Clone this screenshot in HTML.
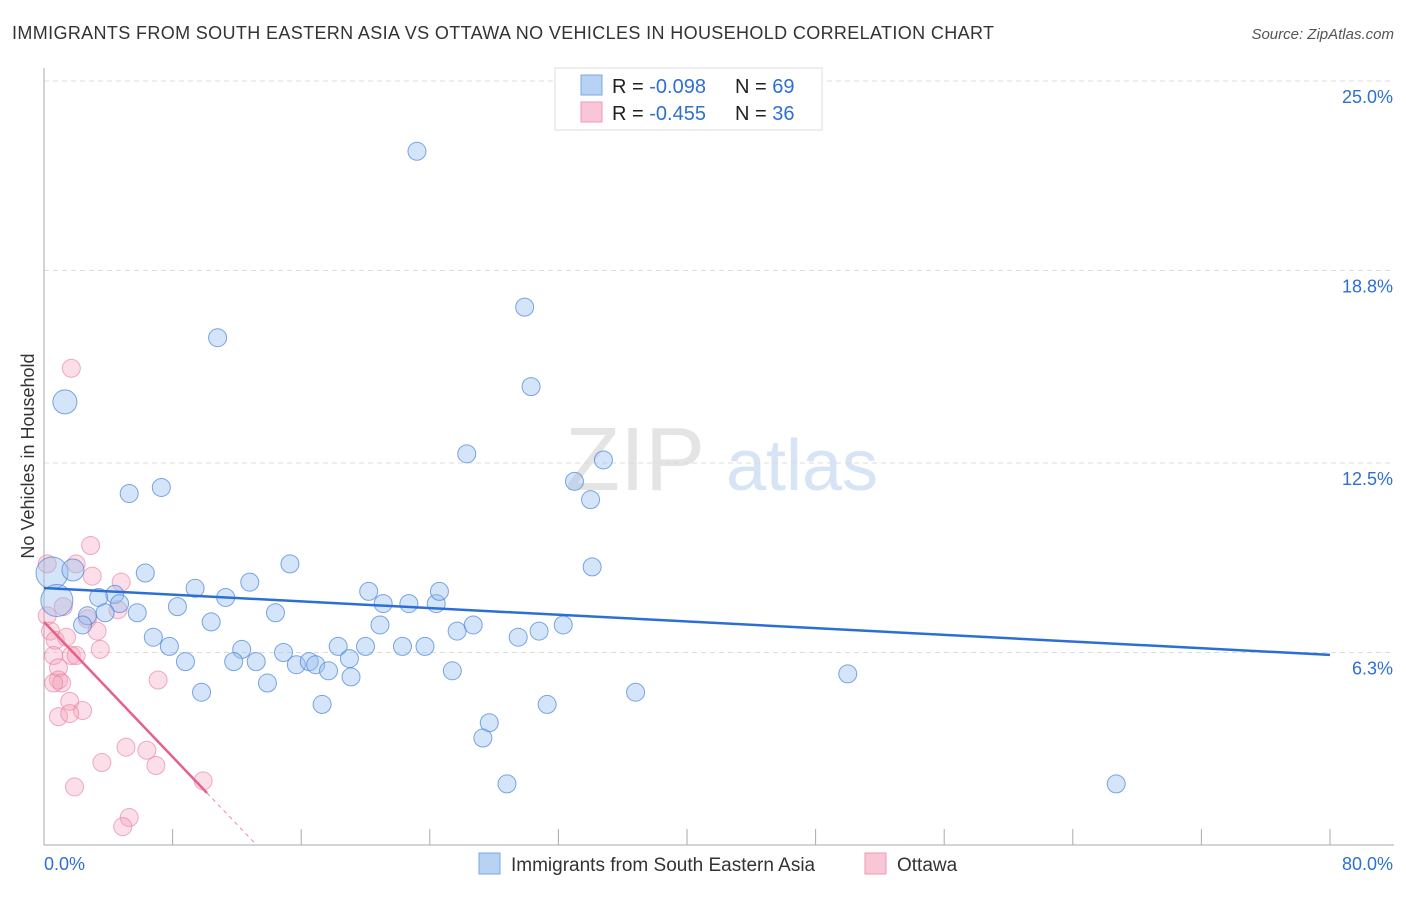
<!DOCTYPE html>
<html><head><meta charset="utf-8"><style>
body{margin:0;background:#fff;font-family:"Liberation Sans",sans-serif;}
svg text{font-family:"Liberation Sans",sans-serif;}
</style></head><body>
<svg id="chart" width="1406" height="892" xmlns="http://www.w3.org/2000/svg">
<text x="12" y="39" font-size="18" fill="#333" textLength="982" lengthAdjust="spacing">IMMIGRANTS FROM SOUTH EASTERN ASIA VS OTTAWA NO VEHICLES IN HOUSEHOLD CORRELATION CHART</text>
<text x="1394" y="39" font-size="15" fill="#555" font-style="italic" text-anchor="end">Source: ZipAtlas.com</text>
<g>
<text x="635" y="490" font-size="90" fill="#e4e4e4" font-family="Liberation Serif" text-anchor="middle">ZIP</text>
<text x="802" y="490" font-size="72" fill="#d6e4f5" text-anchor="middle">atlas</text>
</g>
<g id="grid"></g>
<g id="axes"></g>
<g id="pts"></g>
<g id="trends"></g>
<g>
<rect x="555" y="68" width="267" height="62" fill="#fff" stroke="#ddd"/>
<rect x="581" y="75" width="21" height="20" fill="#b7d2f3" stroke="#7aa7e3"/>
<rect x="581" y="102" width="21" height="20" fill="#f9c6d5" stroke="#ee9ab4"/>
<text x="612" y="93" font-size="20" fill="#222">R = <tspan fill="#2e6fd3">-0.098</tspan></text>
<text x="735" y="93" font-size="20" fill="#222">N = <tspan fill="#2e6fd3">69</tspan></text>
<text x="612" y="120" font-size="20" fill="#222">R = <tspan fill="#2e6fd3">-0.455</tspan></text>
<text x="735" y="120" font-size="20" fill="#222">N = <tspan fill="#2e6fd3">36</tspan></text>
</g>
<g>
<rect x="479" y="853" width="21" height="21" fill="#b7d2f3" stroke="#7aa7e3"/>
<text x="511" y="871" font-size="19" fill="#333">Immigrants from South Eastern Asia</text>
<rect x="865" y="853" width="21" height="21" fill="#f9c6d5" stroke="#ee9ab4"/>
<text x="897" y="871" font-size="19" fill="#333">Ottawa</text>
</g>
<text transform="translate(34,456) rotate(-90)" font-size="18" fill="#333" text-anchor="middle">No Vehicles in Household</text>
</svg>
<script>
const yTicks=[25.0,18.8,12.5,6.3];
const yTickLabels=["25.0%","18.8%","12.5%","6.3%"];
const xEndLabels=["0.0%","80.0%"];
const blueX=[23.2,29.9,30.3,10.8,1.3,26.3,34.8,5.3,7.3,33.0,34.0,34.1,0.5,1.8,6.3,15.3,12.8,9.4,11.3,4.4,3.4,4.7,5.8,8.3,3.8,2.7,2.4,0.8,10.4,14.4,20.2,21.1,22.7,24.4,24.6,20.9,25.7,26.7,29.5,30.8,32.3,6.8,7.8,12.3,14.9,18.3,20.0,22.3,23.7,19.0,8.8,11.8,13.2,15.7,16.5,16.9,17.7,25.4,19.1,13.9,9.8,17.3,36.8,31.3,50.0,27.7,27.3,28.8,66.7];
const blueY=[22.7,17.6,15.0,16.6,14.5,12.8,12.6,11.5,11.7,11.9,11.3,9.1,8.9,9.0,8.9,9.2,8.6,8.4,8.1,8.2,8.1,7.9,7.6,7.8,7.6,7.5,7.2,8.0,7.3,7.6,8.3,7.9,7.9,7.9,8.3,7.2,7.0,7.2,6.8,7.0,7.2,6.8,6.5,6.4,6.3,6.5,6.5,6.5,6.5,6.1,6.0,6.0,6.0,5.9,6.0,5.9,5.7,5.7,5.5,5.3,5.0,4.6,5.0,4.6,5.6,4.0,3.5,2.0,2.0];
const blueS=[9,9,9,9,12,9,9,9,9,9,9,9,16,11,9,9,9,9,9,9,9,9,9,9,9,9,9,16,9,9,9,9,9,9,9,9,9,9,9,9,9,9,9,9,9,9,9,9,9,9,9,9,9,9,9,9,9,9,9,9,9,9,9,9,9,9,9,9,9];
const pinkX=[1.7,2.9,0.2,2.0,3.0,4.8,1.2,0.2,2.7,4.6,3.3,0.4,0.7,1.4,3.5,1.7,2.0,0.6,0.9,0.9,1.1,0.6,7.1,1.6,2.4,0.9,1.6,5.1,6.4,3.6,6.962,9.9,1.9,5.3,4.9];
const pinkY=[15.6,9.8,9.2,9.2,8.8,8.6,7.8,7.5,7.4,7.7,7.0,7.0,6.7,6.8,6.4,6.2,6.2,6.2,5.8,5.4,5.3,5.3,5.4,4.7,4.4,4.2,4.3,3.2,3.1,2.7,2.6,2.1,1.9,0.9,0.6];
const blueTrend=[8.41,6.22];
const pinkTrend=[7.30,-0.552];
const pinkSolidEnd=10.14;
const X0=44,X1=1330,Y0=845,YPER=30.56;
const xs=v=>X0+v*(X1-X0)/80, ys=v=>Y0-v*YPER;
const NS="http://www.w3.org/2000/svg";
function mk(p,t,a){const e=document.createElementNS(NS,t);for(const k in a)e.setAttribute(k,a[k]);p.appendChild(e);return e;}
const grid=document.getElementById('grid'),axes=document.getElementById('axes'),pts=document.getElementById('pts'),tr=document.getElementById('trends');
yTicks.forEach((t,i)=>{
 const l=mk(grid,'line',{x1:X0,x2:1394,y1:ys(t),y2:ys(t),stroke:'#ddd','stroke-dasharray':'5,4'});
 
 
 const tx=mk(axes,'text',{x:1393,y:ys(t)+22,'font-size':18,fill:'#2e6fd3','text-anchor':'end'});tx.textContent=yTickLabels[i];
 
 
});
const ax=mk(axes,'line',{x1:X0,x2:X0,y1:68,y2:Y0,stroke:'#aaa'});


const bx=mk(axes,'line',{x1:X0,x2:1394,y1:Y0,y2:Y0,stroke:'#aaa'});


for(let i=1;i<=10;i++){const tk=mk(axes,'line',{x1:xs(i*8),x2:xs(i*8),y1:Y0-16,y2:Y0,stroke:'#aaa'});
 
 }
[[xEndLabels[0],44,'start'],[xEndLabels[1],1393,'end']].forEach(d=>{const t=mk(axes,'text',{x:d[1],y:870,'font-size':18,fill:'#2e6fd3','text-anchor':d[2]});t.textContent=d[0];
 
 });
pinkX.forEach((v,i)=>{const c=mk(pts,'circle',{cx:xs(v),cy:ys(pinkY[i]),r:9,fill:'rgba(244,160,185,0.35)',stroke:'rgba(232,120,155,0.6)','stroke-width':1});
 
 });
blueX.forEach((v,i)=>{const c=mk(pts,'circle',{cx:xs(v),cy:ys(blueY[i]),r:blueS[i],fill:'rgba(150,190,240,0.4)',stroke:'rgba(70,130,215,0.7)','stroke-width':1});
 
 });
const bl=mk(tr,'line',{x1:xs(0),y1:ys(blueTrend[0]),x2:xs(80),y2:ys(blueTrend[1]),stroke:'#2b6fd6','stroke-width':2.5});


const pf=x=>pinkTrend[0]+pinkTrend[1]*x;
const pl=mk(tr,'line',{x1:xs(0),y1:ys(pf(0)),x2:xs(pinkSolidEnd),y2:ys(pf(pinkSolidEnd)),stroke:'#e6608a','stroke-width':2.5});


const xz=-pinkTrend[0]/pinkTrend[1];
const pd=mk(tr,'line',{x1:xs(pinkSolidEnd),y1:ys(pf(pinkSolidEnd)),x2:xs(xz),y2:ys(0),stroke:'#eb8aa8','stroke-width':1,'stroke-dasharray':'4,4'});


</script>
</body></html>
